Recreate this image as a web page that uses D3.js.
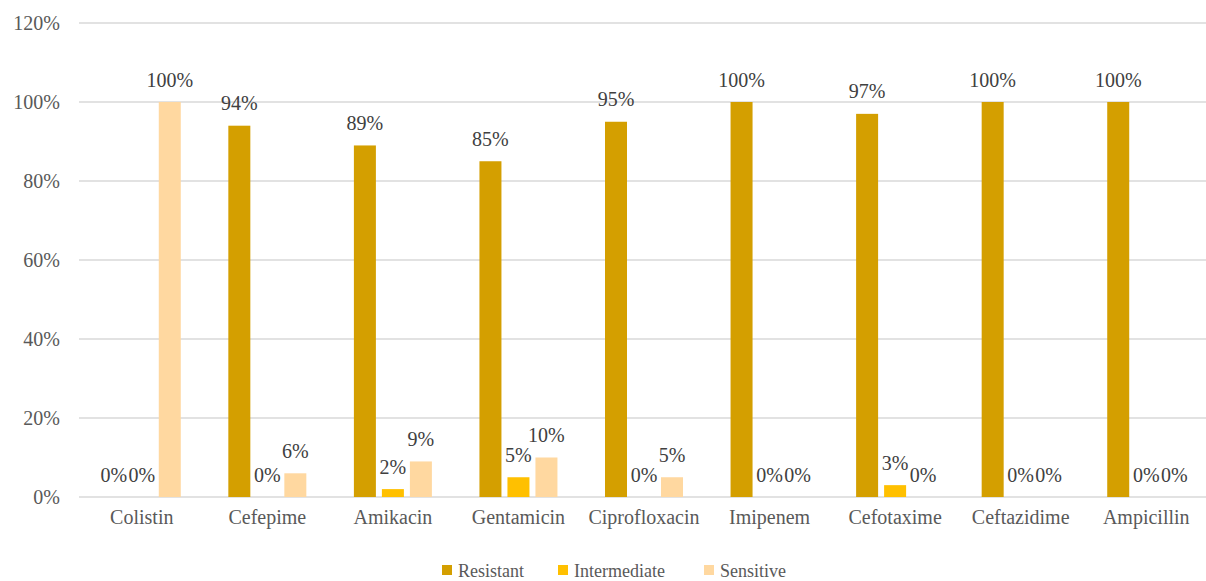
<!DOCTYPE html>
<html><head><meta charset="utf-8">
<script src="https://cdn.jsdelivr.net/npm/d3@7"></script>
<style>body{margin:0;background:#fff}svg{display:block}</style>
</head><body>
<svg id="c" width="1206" height="581"></svg>
<script>
const categories = ["Colistin","Cefepime","Amikacin","Gentamicin","Ciprofloxacin","Imipenem","Cefotaxime","Ceftazidime","Ampicillin"];
const seriesNames = ["Resistant","Intermediate","Sensitive"];
const resistant = [0,94,89,85,95,100,97,100,100];
const intermediate = [0,0,2,5,0,0,3,0,0];
const sensitive = [100,6,9,10,5,0,0,0,0];
const yTicks = [0,20,40,60,80,100,120];
const colors = ["#D49F00","#FFC000","#FFD8A0"];

const series = [resistant, intermediate, sensitive];
const svg = d3.select("#c");
const pLeft = 79, pRight = 1209, pTop = 23, pBottom = 497;
const x = d3.scaleBand().domain(categories).range([pLeft, pRight]);
const y = d3.scaleLinear().domain([0,120]).range([pBottom, pTop]);
const barW = 22, step = 28;
const FONT = "Liberation Serif, DejaVu Serif";

// gridlines
svg.append("g").selectAll("line").data(yTicks).join("line")
  .attr("x1", pLeft).attr("x2", pRight)
  .attr("y1", d => y(d)).attr("y2", d => y(d))
  .attr("stroke", "#d9d9d9").attr("stroke-width", 1.5);

// y axis labels
const yAxis = d3.axisLeft(y).tickValues(yTicks).tickFormat(d => d + "%").tickSize(0).tickPadding(0);
const ya = svg.append("g").attr("transform", `translate(60,0)`).call(yAxis);
ya.select(".domain").remove();
ya.attr("font-family", FONT).attr("font-size", 20);
ya.selectAll("text").attr("fill", "#595959");

// x axis labels
const xAxis = d3.axisBottom(x).tickSize(0).tickPadding(0);
const xa = svg.append("g").attr("transform", `translate(0,${pBottom + 13})`).call(xAxis);
xa.select(".domain").remove();
xa.attr("font-family", FONT).attr("font-size", 20);
xa.selectAll("text").attr("fill", "#595959").attr("dy", "0.71em");

// bars
series.forEach((vals, si) => {
  const g = svg.append("g").attr("font-family", FONT).attr("font-size", 20);
  const bx = (c) => x(c) + x.bandwidth()/2 + (si - 1) * step - barW/2;
  g.selectAll("rect").data(categories.map((c,i)=>({c, v: vals[i]}))).join("rect")
    .attr("x", d => bx(d.c)).attr("width", barW)
    .attr("y", d => y(d.v)).attr("height", d => pBottom - y(d.v))
    .attr("fill", colors[si]);
  g.selectAll("text").data(categories.map((c,i)=>({c, v: vals[i]}))).join("text")
    .attr("x", d => bx(d.c) + barW/2).attr("y", d => y(d.v) - 15.5)
    .attr("text-anchor", "middle").attr("fill", "#404040")
    .text(d => d.v + "%");
});

// legend
const legendX = [442, 558, 704];
const lg = svg.append("g").attr("font-family", FONT).attr("font-size", 18);
seriesNames.forEach((n, i) => {
  lg.append("rect").attr("x", legendX[i]).attr("y", 565).attr("width", 10).attr("height", 10).attr("fill", colors[i]);
  lg.append("text").attr("x", legendX[i] + 16).attr("y", 577).attr("fill", "#595959").text(n);
});
</script>
</body></html>
